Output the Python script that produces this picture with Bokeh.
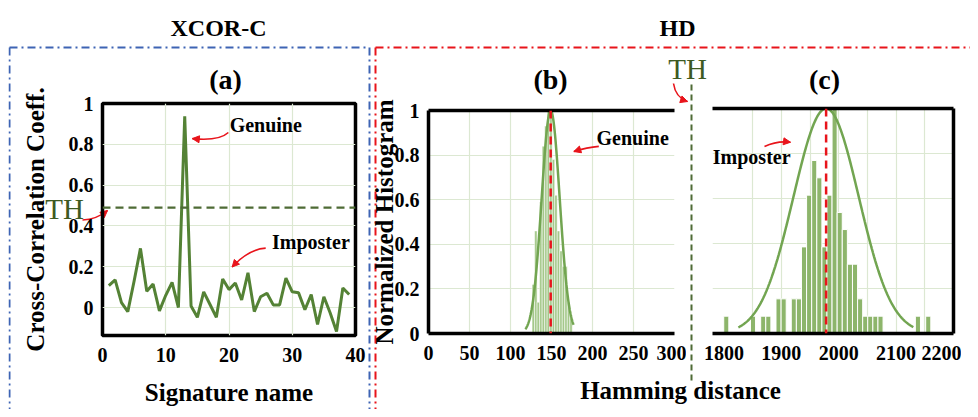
import numpy as np
from bokeh.plotting import figure
from bokeh.models import Range1d, FixedTicker, NumeralTickFormatter, LinearAxis, Arrow, NormalHead, Span
from bokeh.core.properties import value
from bokeh.embed import file_html
from bokeh.resources import INLINE

# ---------------- data ----------------
sig_index = list(range(1, 40))
xcor_coeff = [0.107, 0.136, 0.024, -0.02, 0.13, 0.29, 0.08, 0.115, -0.016, 0.06,
              0.123, 0.0, 0.937, 0.008, -0.048, 0.077, 0.015, -0.048, 0.14, 0.088,
              0.12, 0.037, 0.17, -0.02, 0.053, 0.07, 0.013, 0.013, 0.144, 0.077,
              0.072, -0.011, 0.064, -0.083, 0.053, -0.027, -0.117, 0.096, 0.064]
xcor_threshold = 0.49

gen_bin_centers = [127.8, 130.9, 133.9, 137.0, 140.1, 143.2, 146.2, 149.3,
                   152.4, 155.4, 158.5, 161.6, 164.6, 167.7, 170.8, 173.8]
gen_bin_heights = [0.22, 0.46, 0.14, 0.59, 0.84, 0.93, 1.0, 1.0,
                   0.78, 0.62, 0.46, 0.37, 0.30, 0.30, 0.14, 0.07]
gen_bin_width = 3.0
gen_mean, gen_sd = 149.0, 11.0
gen_curve_lo, gen_curve_hi = 118.0, 177.0

imp_bin_centers = [1804.0, 1850.6, 1868.4, 1877.3, 1895.1, 1904.0, 1921.7, 1930.6, 1939.5, 1948.4,
                   1957.3, 1966.2, 1975.1, 1983.9, 1992.8, 2001.7, 2010.6, 2019.5, 2028.4, 2037.3,
                   2046.2, 2055.0, 2063.9, 2072.8, 2138.0, 2156.0]
imp_bin_heights = [0.077, 0.077, 0.077, 0.077, 0.154, 0.154, 0.154, 0.154, 0.385, 0.615,
                   0.769, 0.692, 0.385, 0.615, 1.0, 0.538, 0.462, 0.308, 0.308, 0.154,
                   0.077, 0.077, 0.077, 0.077, 0.077, 0.077]
imp_bin_width = 8.89
imp_mean, imp_sd = 1978.0, 57.0
imp_curve_lo, imp_curve_hi = 1825.0, 2130.0

a_xticks = [0, 10, 20, 30, 40]
a_yticks = [0, 0.2, 0.4, 0.6, 0.8, 1]
b_xticks = [0, 50, 100, 150, 200, 250, 300]
b_yticks = [0, 0.2, 0.4, 0.6, 0.8, 1]
c_xticks = [1800, 1900, 2000, 2100, 2200]
c_xgrid = [1850, 1900, 1950, 2000, 2050, 2100, 2150]
inner_yticks = [0.2, 0.4, 0.6, 0.8]

# ---------------- styles ----------------
SERIF = "Liberation Serif"
GRID = "#dce8d2"
LINE_GREEN = "#548235"
CURVE_GREEN = "#72a551"
DARK_GREEN = "#3d5a22"
TH_LINE = "#4e6b35"
RED = "#e8141b"


def place(page_left, page_top):
    return {"position": "absolute", "left": f"{page_left}px", "top": f"{page_top}px"}


def panel(xr, yr, L, W, R, T, H, B, page_left, page_top):
    p = figure(width=L + W + R, height=T + H + B, x_range=xr, y_range=yr,
               min_border_left=L, min_border_right=R, min_border_top=T, min_border_bottom=B,
               toolbar_location=None, output_backend="svg",
               background_fill_color=None, border_fill_color=None,
               styles=place(page_left, page_top))
    p.outline_line_color = None
    for ax in p.axis:
        ax.major_tick_line_color = None
        ax.minor_tick_line_color = None
        ax.major_label_text_font = SERIF
        ax.major_label_text_font_style = "bold"
        ax.major_label_text_font_size = "20px"
        ax.major_label_text_color = "black"
        ax.axis_label_text_font = SERIF
        ax.axis_label_text_font_style = "bold"
        ax.axis_label_text_font_size = "25px"
        ax.axis_label_text_color = "black"
    p.grid.grid_line_color = GRID
    p.grid.grid_line_width = 1.2
    return p


def edge_axis(p, side):
    ax = LinearAxis(ticker=FixedTicker(ticks=[]), axis_line_color="black", axis_line_width=3.5,
                    major_tick_line_color=None, minor_tick_line_color=None)
    p.add_layout(ax, side)


def curved_arrow(p, x0, y0, cx, cy, x1, y1):
    p.quadratic(x0=[x0], y0=[y0], x1=[x1], y1=[y1], cx=[cx], cy=[cy], line_color=RED, line_width=1.6)
    sx = x1 - 0.2 * (x1 - cx)
    sy = y1 - 0.2 * (y1 - cy)
    p.add_layout(Arrow(end=NormalHead(size=7, fill_color=RED, line_color=RED, line_width=1),
                       x_start=sx, y_start=sy, x_end=x1, y_end=y1,
                       line_color=RED, line_width=1.6))


def note(p, x, y, txt, size="20px", align="left", bold=True, color="black"):
    p.text(x=[x], y=[y], text=[txt], text_font=value(SERIF), text_font_size=value(size),
           text_font_style="bold" if bold else "normal", text_color=color,
           text_align=align, text_baseline="middle")


# ---------------- background canvas (page pixel coordinates) ----------------
bg = figure(width=962, height=401, x_range=Range1d(8, 970), y_range=Range1d(409, 8),
            x_axis_type=None, y_axis_type=None, toolbar_location=None, output_backend="svg",
            min_border=0, min_border_left=0, min_border_right=0, min_border_top=0, min_border_bottom=0,
            styles=place(8, 8))
bg.outline_line_color = None
bg.background_fill_color = "white"
bg.border_fill_color = "white"

# dash-dot group boxes
bg.segment(x0=[9, 9, 369], y0=[47, 47, 47], x1=[369, 9, 369], y1=[47, 409, 409],
           line_color="#3e64b4", line_width=2, line_dash="8 4 2 4")
bg.segment(x0=[375, 375], y0=[47, 47], x1=[970, 375], y1=[47, 409],
           line_color=RED, line_width=2, line_dash="8 4 2 4")
# threshold separator between (b) and (c)
bg.segment(x0=[691], y0=[84], x1=[691], y1=[380], line_color=TH_LINE, line_width=2, line_dash="6 4")

note(bg, 218, 27, "XCOR-C", size="24px", align="center")
note(bg, 677, 27, "HD", size="24px", align="center")
note(bg, 225, 79, "(a)", size="28px", align="center")
note(bg, 550, 79, "(b)", size="28px", align="center")
note(bg, 824, 79, "(c)", size="28px", align="center")
note(bg, 64, 208, "TH", size="29px", align="center", bold=False, color=DARK_GREEN)
note(bg, 687, 68, "TH", size="29px", align="center", bold=False, color=DARK_GREEN)
note(bg, 680, 390, "Hamming distance", size="25px", align="center")

curved_arrow(bg, 82, 219.5, 96, 219, 107, 210)
curved_arrow(bg, 673, 83, 675, 97, 687, 101)

# ---------------- (a) XCOR-C ----------------
pa = panel(Range1d(0, 40), Range1d(-0.137, 1.0), L=88, W=253, R=14, T=43, H=233, B=72,
           page_left=14, page_top=60)
pa.outline_line_color = "black"
pa.outline_line_width = 3.5
pa.xaxis.ticker = FixedTicker(ticks=a_xticks)
pa.yaxis.ticker = FixedTicker(ticks=a_yticks)
pa.yaxis.formatter = NumeralTickFormatter(format="0.[0]")
pa.axis.axis_line_color = None
pa.xaxis.major_label_standoff = 6
pa.yaxis.major_label_standoff = 3
pa.xaxis.axis_label = "Signature name"
pa.yaxis.axis_label = "Cross-Correlation Coeff."
pa.xaxis.axis_label_standoff = 14
pa.yaxis.axis_label_standoff = 17
pa.add_layout(Span(location=xcor_threshold, dimension="width", line_color=TH_LINE,
                   line_width=2.2, line_dash="8 5"))
pa.line(sig_index, xcor_coeff, line_color=LINE_GREEN, line_width=3)
note(pa, 20.1, 0.893, "Genuine")
curved_arrow(pa, 19.9, 0.858, 18.4, 0.815, 14.2, 0.828)
note(pa, 26.8, 0.319, "Imposter")
curved_arrow(pa, 25.8, 0.291, 23.1, 0.286, 20.5, 0.199)

# ---------------- (b) HD genuine ----------------
pb = panel(Range1d(0, 300), Range1d(0, 1), L=62, W=246, R=12, T=50, H=223, B=35,
           page_left=366, page_top=60)
pb.xaxis.ticker = FixedTicker(ticks=b_xticks)
pb.yaxis.ticker = FixedTicker(ticks=b_yticks)
pb.yaxis.formatter = NumeralTickFormatter(format="0.[0]")
pb.axis.axis_line_color = "black"
pb.axis.axis_line_width = 3.5
pb.xaxis.major_label_standoff = 6
pb.yaxis.major_label_standoff = 3
pb.yaxis.axis_label = "Normalized Histogram"
pb.yaxis.axis_label_standoff = -6
pb.xgrid.ticker = FixedTicker(ticks=b_xticks[1:-1])
pb.ygrid.ticker = FixedTicker(ticks=inner_yticks)
edge_axis(pb, "above")
pb.vbar(x=gen_bin_centers, top=gen_bin_heights, width=gen_bin_width, bottom=0,
        fill_color="#9fc584", fill_alpha=0.95, line_color="white", line_width=0.5)
gx = np.linspace(gen_curve_lo, gen_curve_hi, 200)
pb.line(gx, np.exp(-0.5 * ((gx - gen_mean) / gen_sd) ** 2), line_color=CURVE_GREEN, line_width=2.5)
pb.add_layout(Span(location=gen_mean, dimension="height", line_color=RED, line_width=2.5, line_dash="8 5"))
note(pb, 204.9, 0.878, "Genuine")
curved_arrow(pb, 207.7, 0.839, 193.5, 0.835, 177.2, 0.816)

# ---------------- (c) HD imposter ----------------
pc = panel(Range1d(1780, 2200), Range1d(0, 1), L=22, W=241, R=8, T=48, H=225, B=35,
           page_left=690, page_top=60)
pc.yaxis.visible = False
pc.xaxis.ticker = FixedTicker(ticks=c_xticks)
pc.xaxis.axis_line_color = "black"
pc.xaxis.axis_line_width = 3.5
pc.xaxis.major_label_standoff = 6
pc.xgrid.ticker = FixedTicker(ticks=c_xgrid)
pc.ygrid.ticker = FixedTicker(ticks=inner_yticks)
edge_axis(pc, "above")
edge_axis(pc, "right")
pc.vbar(x=imp_bin_centers, top=imp_bin_heights, width=imp_bin_width, bottom=0,
        fill_color="#8db56b", line_color="white", line_width=1)
ix = np.linspace(imp_curve_lo, imp_curve_hi, 300)
pc.line(ix, np.exp(-0.5 * ((ix - imp_mean) / imp_sd) ** 2), line_color=CURVE_GREEN, line_width=2.5)
pc.add_layout(Span(location=imp_mean, dimension="height", line_color=RED, line_width=2.5, line_dash="8 5"))
note(pc, 1780.5, 0.784, "Imposter")
curved_arrow(pc, 1870.6, 0.831, 1892.7, 0.858, 1915.9, 0.85)

open("out.html", "w").write(file_html([bg, pa, pb, pc], INLINE))
